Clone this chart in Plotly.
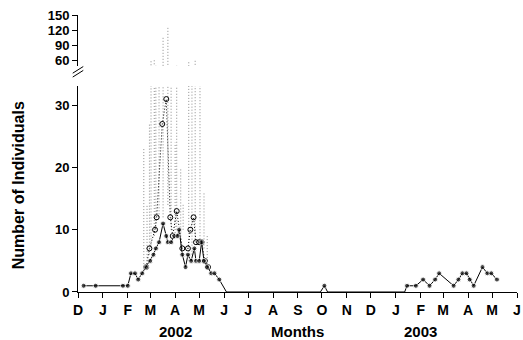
import plotly.graph_objects as go

# ---------------- data ----------------
solid_dates = ["2001-12-08", "2001-12-23", "2002-01-26", "2002-02-01", "2002-02-05",
               "2002-02-10", "2002-02-14", "2002-02-19", "2002-02-24", "2002-03-01",
               "2002-03-05", "2002-03-08", "2002-03-12", "2002-03-17", "2002-03-21",
               "2002-03-23", "2002-03-27", "2002-03-31", "2002-04-04", "2002-04-06",
               "2002-04-10", "2002-04-14", "2002-04-17", "2002-04-21", "2002-04-25",
               "2002-04-27", "2002-05-01", "2002-05-04", "2002-05-07", "2002-05-11",
               "2002-05-16", "2002-05-20", "2002-05-26", "2002-06-04",
               "2002-09-29", "2002-10-04", "2002-10-08",
               "2003-01-12", "2003-01-15", "2003-01-26", "2003-02-04", "2003-02-12",
               "2003-02-19", "2003-02-24", "2003-03-14", "2003-03-20", "2003-03-25",
               "2003-03-30", "2003-04-03", "2003-04-08", "2003-04-19", "2003-04-25",
               "2003-04-30", "2003-05-07"]
solid_values = [1, 1, 1, 1, 3,
                3, 2, 3, 4, 5,
                6, 7, 8, 11, 9,
                8, 8, 9, 9, 10,
                6, 4, 6, 5, 7,
                5, 5, 8, 5, 4,
                3, 3, 2, 0,
                0, 1, 0,
                0, 1, 1, 2, 1,
                2, 3, 1, 2, 3,
                3, 2, 1, 4, 3,
                3, 2]

open_dates = ["2002-02-24", "2002-02-28", "2002-03-07", "2002-03-09",
              "2002-03-16", "2002-03-21", "2002-03-26", "2002-03-29",
              "2002-04-03", "2002-04-10", "2002-04-17",
              "2002-04-20", "2002-04-24", "2002-04-27", "2002-05-01", "2002-05-04",
              "2002-05-08", "2002-05-12"]
open_values = [4, 7, 10, 12,
               27, 31, 12, 9,
               13, 7, 7,
               10, 12, 8, 8, 8,
               5, 4]

# ranges (min - max) drawn as dotted grey columns
range_dates = ["2002-02-21", "2002-02-25", "2002-02-28", "2002-03-02", "2002-03-06",
               "2002-03-08", "2002-03-12", "2002-03-17", "2002-03-23", "2002-03-27",
               "2002-04-01", "2002-04-03", "2002-04-08", "2002-04-11", "2002-04-18",
               "2002-04-22", "2002-04-26", "2002-05-02", "2002-05-07", "2002-05-11"]
range_low = [4, 5, 6, 7, 9,
             10, 12, 12, 14, 10,
             9, 10, 7, 10, 5,
             6, 8, 8, 7, 4]
range_high = [23, 14, 27, 60, 60,
              50, 40, 105, 125, 48,
              24, 50, 20, 14, 58,
              45, 60, 50, 16, 9]

month_ticks = ["2001-12-01", "2002-01-01", "2002-02-01", "2002-03-01", "2002-04-01",
               "2002-05-01", "2002-06-01", "2002-07-01", "2002-08-01", "2002-09-01",
               "2002-10-01", "2002-11-01", "2002-12-01", "2003-01-01", "2003-02-01",
               "2003-03-01", "2003-04-01", "2003-05-01", "2003-06-01"]
month_labels = ["D", "J", "F", "M", "A", "M", "J", "J", "A", "S", "O", "N", "D",
                "J", "F", "M", "A", "M", "J"]
year_labels = ["2002", "2003"]
year_positions = ["2002-04-01", "2003-02-01"]
lower_ticks = [0, 10, 20, 30]
upper_ticks = [60, 90, 120, 150]

# ---------------- figure ----------------
FONT = "Liberation Sans"
fig = go.Figure()

seg_x, seg_y = [], []
for d, lo, hi in zip(range_dates, range_low, range_high):
    seg_x += [d, d, None]
    seg_y += [lo, hi, None]

gray_line = dict(color="#8c8c8c", width=1, dash="1px,2px")
for ax in ["y", "y2"]:
    fig.add_trace(go.Scatter(x=seg_x, y=seg_y, mode="lines", connectgaps=False,
                             line=gray_line, yaxis=ax, showlegend=False,
                             hoverinfo="skip"))

fig.add_trace(go.Scatter(x=open_dates, y=open_values, mode="lines+markers",
                         line=dict(color="black", width=1, dash="1px,2px"),
                         marker=dict(symbol="circle-open", size=5, color="black",
                                     line=dict(width=1)),
                         showlegend=False))

marker_sizes = [0 if v == 0 else 5 for v in solid_values]
fig.add_trace(go.Scatter(x=solid_dates, y=solid_values, mode="lines+markers",
                         line=dict(color="black", width=1),
                         marker=dict(symbol="circle", size=marker_sizes, color="black"),
                         showlegend=False))

xtickfont = dict(family=FONT, size=14, color="black", weight="bold")
ytickfont = dict(family=FONT, size=13, color="black", weight="bold")
axis_common = dict(ticks="outside", ticklen=5, tickwidth=1, tickcolor="black",
                   showline=True, linecolor="black", linewidth=1, showgrid=False,
                   zeroline=False, automargin=False)

fig.update_layout(
    width=523, height=340,
    margin=dict(l=78, r=6, t=15, b=48),
    paper_bgcolor="white", plot_bgcolor="white",
    showlegend=False,
    xaxis=dict(range=["2001-12-01", "2003-06-01"], tickvals=month_ticks,
               ticktext=month_labels, anchor="y", tickfont=xtickfont, **axis_common),
    yaxis=dict(domain=[0, 0.7437], range=[0, 33.1], tickvals=lower_ticks,
               anchor="x", tickfont=ytickfont, **axis_common),
    yaxis2=dict(domain=[0.8159, 1], range=[48, 151], tickvals=upper_ticks,
                anchor="x", tickfont=ytickfont, **axis_common),
)

# y-axis title spanning both panels
fig.add_annotation(text="Number of Individuals", xref="paper", yref="paper",
                   x=-0.137, y=0.385, textangle=-90, showarrow=False,
                   font=dict(family=FONT, size=16, color="black", weight="bold"),
                   xanchor="center", yanchor="middle")

fig.add_annotation(text="Months", xref="paper", yref="paper", x=0.5, y=-0.141,
                   showarrow=False, xanchor="center", yanchor="middle",
                   font=dict(family=FONT, size=15, color="black", weight="bold"))
for lab, pos in zip(year_labels, year_positions):
    fig.add_annotation(text=lab, xref="x", yref="paper", x=pos, y=-0.141,
                       showarrow=False, xanchor="center", yanchor="middle",
                       font=dict(family=FONT, size=15, color="black", weight="bold"))

# axis break marks
fig.add_shape(type="line", xref="paper", yref="paper",
              x0=-0.0005, y0=0.78, x1=-0.0005, y1=0.81,
              line=dict(color="white", width=3), layer="above")
for dy in [0.0, 0.014]:
    fig.add_shape(type="line", xref="paper", yref="paper",
                  x0=-0.012, y0=0.776 + dy, x1=0.012, y1=0.800 + dy,
                  line=dict(color="black", width=1))

fig.write_html("out.html", config={"displayModeBar": False},
               post_script="document.body.style.margin='0';document.body.style.overflow='hidden';")
